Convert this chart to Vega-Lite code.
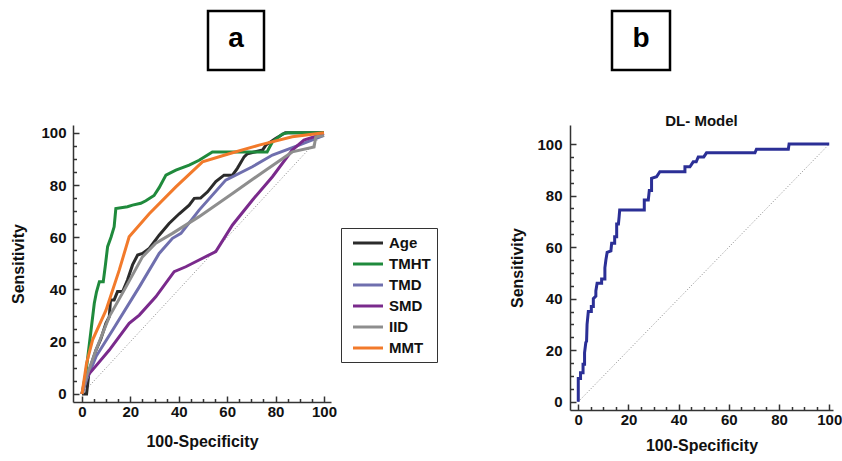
{
  "$schema": "https://vega.github.io/schema/vega-lite/v6.json",
  "padding": {"left": 10, "top": 9, "right": 5, "bottom": 5},
  "background": "white",
  "spacing": 42,
  "config": {
    "font": "Liberation Sans",
    "view": {"stroke": null},
    "axis": {
      "grid": false,
      "ticks": true,
      "domainColor": "#333",
      "domainWidth": 1.5,
      "tickColor": "#333",
      "tickWidth": 1.5,
      "labelFont": "Liberation Sans",
      "labelFontWeight": "bold",
      "labelFontSize": 15,
      "labelColor": "#111",
      "titleFont": "Liberation Sans",
      "titleFontWeight": "bold",
      "titleFontSize": 16,
      "titleColor": "#111"
    },
    "title": {"font": "Liberation Sans", "fontWeight": "bold", "fontSize": 15, "color": "#111"}
  },
  "datasets": {
    "diag": [{"x": 0, "y": 0}, {"x": 100, "y": 100}],
    "rocA": [
      {"series": "Age", "x": 0, "y": 0}, {"series": "Age", "x": 1.9, "y": 0}, {"series": "Age", "x": 3, "y": 9},
      {"series": "Age", "x": 5.8, "y": 16.8}, {"series": "Age", "x": 7.8, "y": 21}, {"series": "Age", "x": 9.9, "y": 27},
      {"series": "Age", "x": 11.3, "y": 29.6}, {"series": "Age", "x": 11.8, "y": 36}, {"series": "Age", "x": 13.3, "y": 36},
      {"series": "Age", "x": 14.7, "y": 39.2}, {"series": "Age", "x": 16.8, "y": 39.2}, {"series": "Age", "x": 18.8, "y": 43.6},
      {"series": "Age", "x": 20.9, "y": 49.4}, {"series": "Age", "x": 23, "y": 53.2}, {"series": "Age", "x": 25, "y": 53.8},
      {"series": "Age", "x": 27.8, "y": 55.7}, {"series": "Age", "x": 31.9, "y": 60.8}, {"series": "Age", "x": 36, "y": 65.3},
      {"series": "Age", "x": 40.2, "y": 69}, {"series": "Age", "x": 44.3, "y": 72.3}, {"series": "Age", "x": 46.4, "y": 74.9},
      {"series": "Age", "x": 49, "y": 75}, {"series": "Age", "x": 51.9, "y": 77.4}, {"series": "Age", "x": 55.3, "y": 81.3},
      {"series": "Age", "x": 58.7, "y": 83.8}, {"series": "Age", "x": 62.2, "y": 83.8}, {"series": "Age", "x": 64.2, "y": 86.4},
      {"series": "Age", "x": 67, "y": 90.8}, {"series": "Age", "x": 68.4, "y": 92}, {"series": "Age", "x": 74.6, "y": 93.4},
      {"series": "Age", "x": 76, "y": 95.3}, {"series": "Age", "x": 80, "y": 97.8}, {"series": "Age", "x": 84, "y": 100},
      {"series": "Age", "x": 100, "y": 100},

      {"series": "TMHT", "x": 0, "y": 0}, {"series": "TMHT", "x": 1.6, "y": 7.9}, {"series": "TMHT", "x": 5.1, "y": 34.7},
      {"series": "TMHT", "x": 6, "y": 39}, {"series": "TMHT", "x": 7.2, "y": 43}, {"series": "TMHT", "x": 8.8, "y": 43},
      {"series": "TMHT", "x": 9.6, "y": 48.7}, {"series": "TMHT", "x": 10.6, "y": 56.4}, {"series": "TMHT", "x": 12, "y": 60},
      {"series": "TMHT", "x": 13.3, "y": 64}, {"series": "TMHT", "x": 14, "y": 71}, {"series": "TMHT", "x": 18.8, "y": 71.7},
      {"series": "TMHT", "x": 20.9, "y": 72.3}, {"series": "TMHT", "x": 24.3, "y": 73}, {"series": "TMHT", "x": 26.4, "y": 74},
      {"series": "TMHT", "x": 29.8, "y": 76}, {"series": "TMHT", "x": 31.9, "y": 79}, {"series": "TMHT", "x": 34.7, "y": 83.8},
      {"series": "TMHT", "x": 38.8, "y": 85.7}, {"series": "TMHT", "x": 44.3, "y": 87.6}, {"series": "TMHT", "x": 48.4, "y": 89.5},
      {"series": "TMHT", "x": 53.9, "y": 92.7}, {"series": "TMHT", "x": 76.5, "y": 92.7}, {"series": "TMHT", "x": 77.5, "y": 94.5},
      {"series": "TMHT", "x": 78.7, "y": 96.5}, {"series": "TMHT", "x": 82.8, "y": 99.5}, {"series": "TMHT", "x": 85, "y": 100},
      {"series": "TMHT", "x": 100, "y": 100},

      {"series": "TMD", "x": 0, "y": 0}, {"series": "TMD", "x": 1.9, "y": 5.4}, {"series": "TMD", "x": 5.8, "y": 14.3},
      {"series": "TMD", "x": 12.7, "y": 24.5}, {"series": "TMD", "x": 23.7, "y": 41}, {"series": "TMD", "x": 31.9, "y": 53.8},
      {"series": "TMD", "x": 37.4, "y": 59.6}, {"series": "TMD", "x": 40.9, "y": 61.5}, {"series": "TMD", "x": 48.4, "y": 70.4},
      {"series": "TMD", "x": 59.4, "y": 81.9}, {"series": "TMD", "x": 70.4, "y": 87}, {"series": "TMD", "x": 78.7, "y": 91.5},
      {"series": "TMD", "x": 89.7, "y": 95.3}, {"series": "TMD", "x": 100, "y": 99},

      {"series": "SMD", "x": 0, "y": 0}, {"series": "SMD", "x": 1.9, "y": 6.6}, {"series": "SMD", "x": 4.4, "y": 9.2},
      {"series": "SMD", "x": 11.3, "y": 16.8}, {"series": "SMD", "x": 19.5, "y": 27}, {"series": "SMD", "x": 23.7, "y": 30.2},
      {"series": "SMD", "x": 30.5, "y": 37.2}, {"series": "SMD", "x": 38.1, "y": 46.8}, {"series": "SMD", "x": 42.9, "y": 48.7},
      {"series": "SMD", "x": 48.4, "y": 51.3}, {"series": "SMD", "x": 55.3, "y": 54.5}, {"series": "SMD", "x": 62.2, "y": 64.7},
      {"series": "SMD", "x": 70.4, "y": 74.2}, {"series": "SMD", "x": 78.7, "y": 83.2}, {"series": "SMD", "x": 86.9, "y": 93.4},
      {"series": "SMD", "x": 91.7, "y": 97.2}, {"series": "SMD", "x": 100, "y": 99.7},

      {"series": "IID", "x": 0, "y": 0}, {"series": "IID", "x": 1.9, "y": 6.6}, {"series": "IID", "x": 5.8, "y": 16.8},
      {"series": "IID", "x": 11.3, "y": 29.6}, {"series": "IID", "x": 18.2, "y": 41}, {"series": "IID", "x": 25, "y": 52.5},
      {"series": "IID", "x": 30.5, "y": 57.7}, {"series": "IID", "x": 37.4, "y": 61.5}, {"series": "IID", "x": 48.4, "y": 67.9},
      {"series": "IID", "x": 62.2, "y": 76.8}, {"series": "IID", "x": 75.9, "y": 85.7}, {"series": "IID", "x": 86.9, "y": 92.7},
      {"series": "IID", "x": 95.9, "y": 94.6}, {"series": "IID", "x": 96.6, "y": 98.5}, {"series": "IID", "x": 100, "y": 99},

      {"series": "MMT", "x": 0, "y": 0}, {"series": "MMT", "x": 1.9, "y": 11.7}, {"series": "MMT", "x": 4.4, "y": 20.7},
      {"series": "MMT", "x": 9.9, "y": 32}, {"series": "MMT", "x": 15.4, "y": 47.4}, {"series": "MMT", "x": 19.5, "y": 60.2},
      {"series": "MMT", "x": 27.8, "y": 69}, {"series": "MMT", "x": 38.8, "y": 79.3}, {"series": "MMT", "x": 49.8, "y": 88.9},
      {"series": "MMT", "x": 60.8, "y": 92}, {"series": "MMT", "x": 73.2, "y": 95.3}, {"series": "MMT", "x": 86.9, "y": 98.5},
      {"series": "MMT", "x": 100, "y": 100}
    ],
    "rocB": [
      {"x": 0, "y": 0}, {"x": 0, "y": 9}, {"x": 0.9, "y": 9}, {"x": 0.9, "y": 11.3}, {"x": 1.9, "y": 11.3},
      {"x": 1.9, "y": 14.6}, {"x": 2.5, "y": 14.6}, {"x": 2.5, "y": 19}, {"x": 3, "y": 23}, {"x": 3.3, "y": 23.5},
      {"x": 3.5, "y": 30}, {"x": 4, "y": 35}, {"x": 5.2, "y": 35}, {"x": 5.2, "y": 37}, {"x": 6, "y": 37},
      {"x": 6, "y": 40}, {"x": 7, "y": 41}, {"x": 7, "y": 43}, {"x": 7.5, "y": 46}, {"x": 9.3, "y": 46},
      {"x": 9.3, "y": 47.6}, {"x": 10.6, "y": 47.6}, {"x": 10.6, "y": 52}, {"x": 11, "y": 55}, {"x": 11.5, "y": 58},
      {"x": 13, "y": 58.5}, {"x": 13.3, "y": 61.5}, {"x": 14.5, "y": 61.5}, {"x": 14.5, "y": 64}, {"x": 15.3, "y": 64},
      {"x": 15.3, "y": 69}, {"x": 16, "y": 69}, {"x": 16.3, "y": 72}, {"x": 16.5, "y": 74.4}, {"x": 26.3, "y": 74.4},
      {"x": 26.3, "y": 78.3}, {"x": 27.9, "y": 78.3}, {"x": 28.3, "y": 82}, {"x": 29.2, "y": 82}, {"x": 29.2, "y": 86.7},
      {"x": 31.2, "y": 87.3}, {"x": 32.5, "y": 89.3}, {"x": 38.5, "y": 89.3}, {"x": 42.5, "y": 89.3}, {"x": 42.5, "y": 91.2},
      {"x": 44.5, "y": 91.2}, {"x": 45.8, "y": 93.1}, {"x": 47, "y": 93.1}, {"x": 47.8, "y": 95}, {"x": 50, "y": 95},
      {"x": 51.1, "y": 96.6}, {"x": 70.4, "y": 96.6}, {"x": 71, "y": 98}, {"x": 83.7, "y": 98}, {"x": 84, "y": 100},
      {"x": 100, "y": 100}
    ],
    "blank": [{}]
  },
  "vconcat": [
    {
      "spacing": 0,
      "hconcat": [
        {"data": {"name": "blank"}, "width": 133, "height": 59, "mark": {"type": "text", "text": ""}, "encoding": {}},
        {"data": {"name": "blank"}, "width": 56, "height": 59, "view": {"stroke": "#000", "strokeWidth": 2.5},
         "mark": {"type": "text", "text": "a", "font": "Liberation Sans", "fontWeight": "bold", "fontSize": 28, "baseline": "middle", "dy": -2, "color": "#000"}, "encoding": {}},
        {"data": {"name": "blank"}, "width": 344, "height": 59, "mark": {"type": "text", "text": ""}, "encoding": {}},
        {"data": {"name": "blank"}, "width": 58, "height": 59, "view": {"stroke": "#000", "strokeWidth": 2.5},
         "mark": {"type": "text", "text": "b", "font": "Liberation Sans", "fontWeight": "bold", "fontSize": 28, "baseline": "middle", "dy": -2, "color": "#000"}, "encoding": {}}
      ]
    },
    {
      "spacing": 172,
      "hconcat": [
        {
          "width": 258, "height": 277,
          "resolve": {"axis": {"x": "independent", "y": "independent"}},
          "layer": [
            {
              "data": {"name": "diag"},
              "mark": {"type": "line", "strokeDash": [1, 2], "strokeWidth": 1, "color": "#888"},
              "encoding": {
                "x": {"field": "x", "type": "quantitative", "scale": {"domain": [-3.7, 102.9], "nice": false, "zero": false},
                  "axis": {"title": "100-Specificity", "orient": "bottom", "values": [0, 20, 40, 60, 80, 100],
                    "tickSize": -6, "labelPadding": 8, "titlePadding": 14}},
                "y": {"field": "y", "type": "quantitative", "scale": {"domain": [-3.1, 103], "nice": false, "zero": false},
                  "axis": {"title": "Sensitivity", "orient": "left", "values": [0, 20, 40, 60, 80, 100],
                    "tickSize": -6, "labelPadding": 13, "titlePadding": 14}}
              }
            },
            {
              "data": {"name": "rocA"},
              "mark": {"type": "line", "strokeWidth": 3},
              "encoding": {
                "x": {"field": "x", "type": "quantitative",
                  "axis": {"title": null, "orient": "bottom", "values": [5,10,15,25,30,35,45,50,55,65,70,75,85,90,95],
                    "labels": false, "domain": false, "tickSize": -3.5}},
                "y": {"field": "y", "type": "quantitative",
                  "axis": {"title": null, "orient": "left", "values": [5,10,15,25,30,35,45,50,55,65,70,75,85,90,95],
                    "labels": false, "domain": false, "tickSize": -3.5}},
                "color": {"field": "series", "type": "nominal",
                  "scale": {"domain": ["Age", "TMHT", "TMD", "SMD", "IID", "MMT"],
                    "range": ["#2b2b2b", "#1f8a3c", "#6f6fae", "#7a2a8c", "#8e8e8e", "#f27a2b"]},
                  "legend": {"title": null, "orient": "none", "legendX": 268, "legendY": 217,
                    "strokeColor": "#333", "padding": 6, "symbolType": "M-2,0H2", "symbolSize": 225,
                    "symbolStrokeWidth": 3, "symbolOffset": 12, "labelFont": "Liberation Sans", "labelFontWeight": "bold",
                    "labelFontSize": 15, "labelColor": "#111", "rowPadding": 4, "labelOffset": 12}}
              }
            }
          ]
        },
        {
          "width": 263, "height": 285,
          "title": {"text": "DL- Model", "offset": -4},
          "resolve": {"axis": {"x": "independent", "y": "independent"}},
          "layer": [
            {
              "data": {"name": "diag"},
              "mark": {"type": "line", "strokeDash": [1, 2], "strokeWidth": 1, "color": "#888"},
              "encoding": {
                "x": {"field": "x", "type": "quantitative", "scale": {"domain": [-3.3, 101.5], "nice": false, "zero": false},
                  "axis": {"title": "100-Specificity", "orient": "bottom", "values": [0, 20, 40, 60, 80, 100],
                    "tickSize": -6, "labelPadding": 8, "titlePadding": 10}},
                "y": {"field": "y", "type": "quantitative", "scale": {"domain": [-3.2, 107.4], "nice": false, "zero": false},
                  "axis": {"title": "Sensitivity", "orient": "left", "values": [0, 20, 40, 60, 80, 100],
                    "tickSize": -6, "labelPadding": 14, "titlePadding": 11}}
              }
            },
            {
              "data": {"name": "rocB"},
              "mark": {"type": "line", "strokeWidth": 3, "color": "#2b2f96"},
              "encoding": {
                "x": {"field": "x", "type": "quantitative",
                  "axis": {"title": null, "orient": "bottom", "values": [5,10,15,25,30,35,45,50,55,65,70,75,85,90,95],
                    "labels": false, "domain": false, "tickSize": -3.5}},
                "y": {"field": "y", "type": "quantitative",
                  "axis": {"title": null, "orient": "left", "values": [5,10,15,25,30,35,45,50,55,65,70,75,85,90,95],
                    "labels": false, "domain": false, "tickSize": -3.5}}
              }
            }
          ]
        }
      ]
    }
  ]
}
